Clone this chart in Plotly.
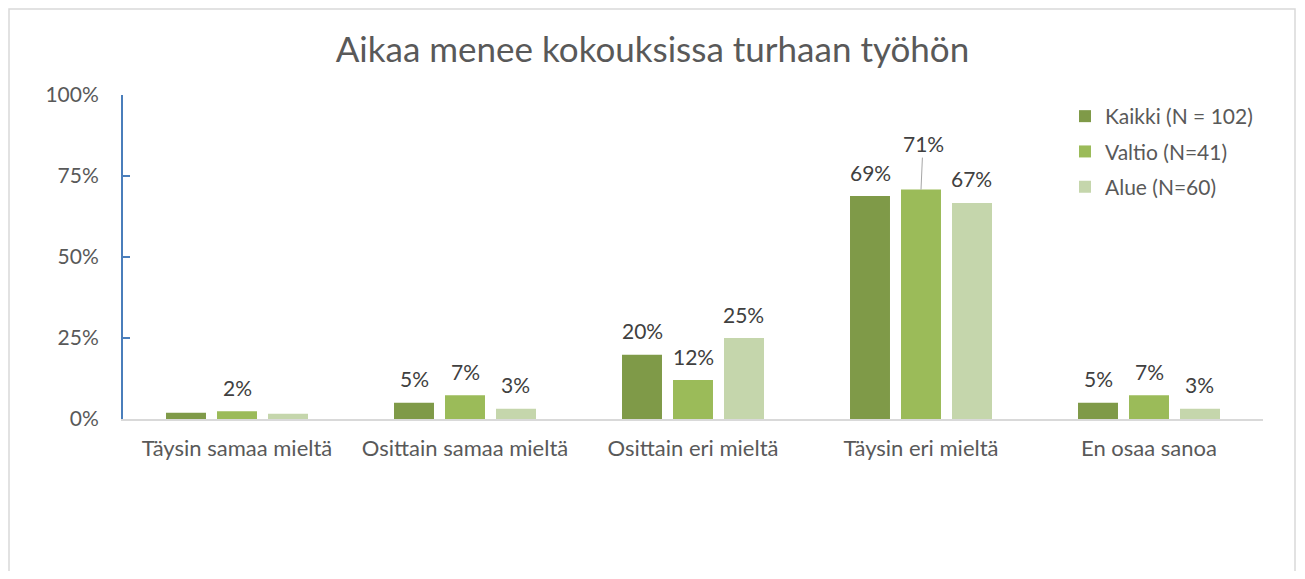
import plotly.graph_objects as go

categories = ["Täysin samaa mieltä", "Osittain samaa mieltä", "Osittain eri mieltä",
              "Täysin eri mieltä", "En osaa sanoa"]
series_names = ["Kaikki (N = 102)", "Valtio (N=41)", "Alue (N=60)"]
kaikki = [1.9, 5.0, 19.8, 68.8, 5.0]
valtio = [2.4, 7.3, 12.0, 70.8, 7.3]
alue = [1.6, 3.2, 25.0, 66.7, 3.2]
# which data labels are shown (the reference hides some)
show_kaikki = [False, True, True, True, True]
show_valtio = [True, True, True, True, True]
show_alue = [False, True, True, True, True]
y_ticks = [0, 25, 50, 75, 100]
y_tick_labels = ["0%", "25%", "50%", "75%", "100%"]
colors = ["#7F9A48", "#9BBB59", "#C5D6AC"]

OFF = 8  # page body margin
W, H = 1305 - 2 * OFF, 579 - 2 * OFF
L, T = 123 - OFF, 95 - OFF
R = W - (1263 - OFF)
B = H - (419 - OFF)
pw = W - L - R
ph = H - T - B

def px_x(page_x):
    return (page_x - OFF - L) / pw

def px_y(page_y):
    return (H - B - (page_y - OFF)) / ph

fig = go.Figure()
all_series = [kaikki, valtio, alue]
all_show = [show_kaikki, show_valtio, show_alue]
for name, vals, col in zip(series_names, all_series, colors):
    fig.add_trace(go.Bar(name=name, x=categories, y=vals, marker_color=col,
                         marker_line_width=0, legendgroup=name))

cat_w = pw / len(categories)
slot = cat_w * (1 - 0.329) / 3
lab_font = dict(size=21, color="#404040", family="Lato")
annotations = []
for si, (vals, shows) in enumerate(zip(all_series, all_show)):
    for ci, (cat, v, s) in enumerate(zip(categories, vals, shows)):
        if not s:
            continue
        label = f"{round(v)}%"
        xs = (si - 1) * slot
        if ci == 3 and si == 1:
            annotations.append(dict(x=cat, y=v, xref="x", yref="y", text=label,
                                    showarrow=True, arrowhead=0, arrowwidth=1,
                                    arrowcolor="#A6A6A6", ax=2, ay=-46,
                                    xshift=xs, font=lab_font))
        else:
            annotations.append(dict(x=cat, y=v, xref="x", yref="y", text=label,
                                    showarrow=False, xshift=xs, yshift=24,
                                    yanchor="middle", font=lab_font))

fig.update_layout(
    width=W, height=H,
    margin=dict(l=L, r=R, t=T, b=B),
    paper_bgcolor="white", plot_bgcolor="white",
    barmode="group", bargap=0.329, bargroupgap=0.216,
    font=dict(family="Lato", color="#595959", size=21),
    title=dict(text="Aikaa menee kokouksissa turhaan työhön", x=0.5, xanchor="center",
               y=1 - (50 - OFF) / H, yanchor="middle",
               font=dict(size=35, color="#595959", family="Lato")),
    showlegend=True,
    legend=dict(x=px_x(1065), y=px_y(96), xanchor="left", yanchor="top",
                font=dict(size=21, color="#595959"), bgcolor="rgba(0,0,0,0)",
                itemwidth=30, tracegroupgap=5, traceorder="grouped"),
    annotations=annotations,
    shapes=[dict(type="rect", xref="paper", yref="paper",
                 x0=px_x(9), x1=px_x(1295),
                 y0=px_y(640), y1=px_y(9),
                 line=dict(color="#D9D9D9", width=1.5), fillcolor="rgba(0,0,0,0)",
                 layer="below")],
)
fig.update_yaxes(range=[0, 100], tickmode="array", tickvals=y_ticks, ticktext=y_tick_labels,
                 showgrid=False, zeroline=False, showline=True, linecolor="#4A7EBB",
                 linewidth=2, ticks="inside", ticklen=7, tickwidth=2, tickcolor="#4A7EBB",
                 ticklabelstandoff=18, tickfont=dict(size=21, color="#595959"))
fig.update_xaxes(showgrid=False, showline=True, linecolor="#D9D9D9", linewidth=2,
                 ticks="", ticklabelstandoff=9, tickfont=dict(size=22, color="#595959"))

fig.write_html("out.html")
